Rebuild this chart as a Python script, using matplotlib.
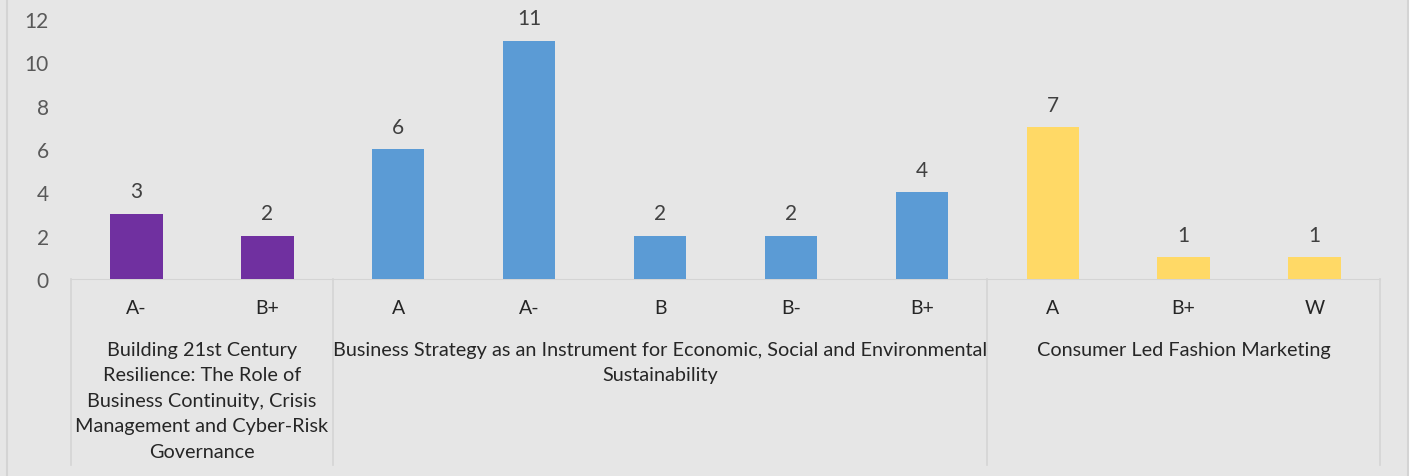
import matplotlib.pyplot as plt
import matplotlib.lines as mlines
import matplotlib.patches as mpatches

plt.rcParams['font.family'] = ['Lato', 'DejaVu Sans']

# data
grades = ['A-', 'B+', 'A', 'A-', 'B', 'B-', 'B+', 'A', 'B+', 'W']
counts = [3, 2, 6, 11, 2, 2, 4, 7, 1, 1]
groups = ['Building 21st Century\nResilience: The Role of\nBusiness Continuity, Crisis\nManagement and Cyber-Risk\nGovernance',
          'Business Strategy as an Instrument for Economic, Social and Environmental\nSustainability',
          'Consumer Led Fashion Marketing']
group_sizes = [2, 5, 3]
group_colors = ['#7030a0', '#5b9bd5', '#ffd966']

bg = '#e6e6e6'
line_c = '#d4d4d4'

fig = plt.figure(figsize=(14.14, 4.77), dpi=100, facecolor=bg)
ax = fig.add_axes([71 / 1414, 197 / 477, (1380 - 71) / 1414, 260 / 477])
ax.set_facecolor(bg)

colors = []
for c, n in zip(group_colors, group_sizes):
    colors += [c] * n

x = list(range(len(counts)))
bars = ax.bar(x, counts, width=0.4, color=colors, zorder=3)
for b, v in zip(bars, counts):
    ax.annotate(str(v), (b.get_x() + b.get_width() / 2, v), xytext=(0, 9),
                textcoords='offset points', ha='center', va='bottom',
                fontsize=15, color='#404040')

ax.set_xlim(-0.5, len(counts) - 0.5)
ax.set_ylim(0, 12)
ax.set_yticks(range(0, 13, 2))
ax.tick_params(axis='y', length=0, pad=16, labelsize=15, labelcolor='#595959')
ax.set_xticks(x)
ax.set_xticklabels(grades)
ax.tick_params(axis='x', length=0, pad=14.5, labelsize=14, labelcolor='#262626')
for s in ['top', 'right', 'left']:
    ax.spines[s].set_visible(False)
ax.spines['bottom'].set_color(line_c)

# group separators and group labels
tr = ax.get_xaxis_transform()
y_bot = -186 / 260
start = -0.5
bounds = [start]
for n in group_sizes:
    bounds.append(bounds[-1] + n)
for b in bounds:
    ax.add_line(mlines.Line2D([b, b], [0, y_bot], transform=tr, color=line_c,
                              lw=1.2, clip_on=False))
for i, g in enumerate(groups):
    cx = (bounds[i] + bounds[i + 1]) / 2
    ax.text(cx, -62 / 260, g, transform=tr, ha='center', va='top',
            fontsize=14.3, color='#262626', linespacing=1.6, multialignment='center')

# outer frame
fig.add_artist(mlines.Line2D([7 / 1414, 7 / 1414], [0, 1], color=line_c, lw=1.5))
fig.add_artist(mlines.Line2D([1408 / 1414, 1408 / 1414], [0, 1], color=line_c, lw=1.5))
fig.add_artist(mpatches.Rectangle((1409 / 1414, 0), 5 / 1414, 1, color='white',
                                  transform=fig.transFigure))

fig.savefig('out.png', dpi=100, facecolor=bg)
